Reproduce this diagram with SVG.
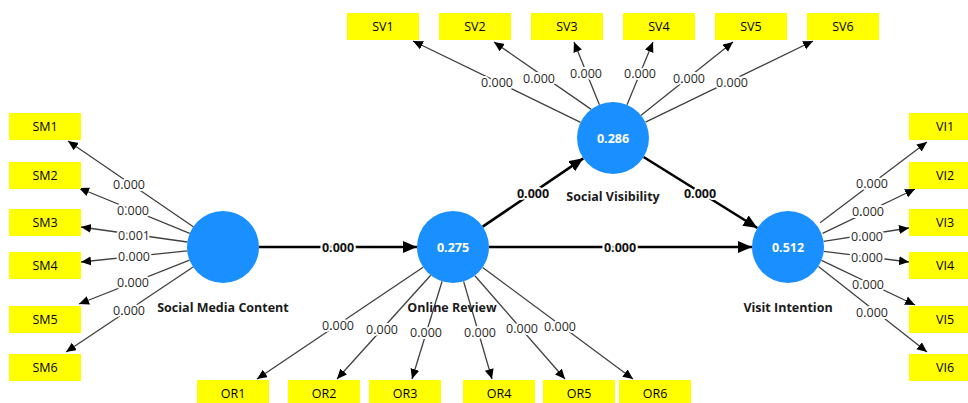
<svg xmlns="http://www.w3.org/2000/svg" width="968" height="403" viewBox="0 0 968 403">
<style>
.box{fill:#ffff00}
.bt{font-family:"Open Sans","Noto Sans",sans-serif;font-size:12.5px;fill:#000;text-anchor:middle;dominant-baseline:central}
.lv{fill:#1a8fff}
.lvt{font-family:"Open Sans","Noto Sans",sans-serif;font-size:12.5px;font-weight:bold;fill:#fff;text-anchor:middle;dominant-baseline:central}
.nm{font-family:"Open Sans","Noto Sans",sans-serif;font-size:12.5px;font-weight:bold;fill:#1a1a1a;text-anchor:middle;dominant-baseline:central}
.m{stroke:#404040;stroke-width:1.3;fill:none;marker-end:url(#am)}
.s{stroke:#000;stroke-width:2.6;fill:none;marker-end:url(#as)}
.ml{font-family:"Open Sans","Noto Sans",sans-serif;font-size:12.5px;fill:#2a2a2a;text-anchor:middle;dominant-baseline:central;stroke:#fff;stroke-width:4;paint-order:stroke;stroke-linejoin:round}
.sl{font-family:"Open Sans","Noto Sans",sans-serif;font-size:12.5px;font-weight:bold;fill:#111;text-anchor:middle;dominant-baseline:central;stroke:#fff;stroke-width:4;paint-order:stroke;stroke-linejoin:round}
</style>
<defs>
<marker id="am" markerUnits="userSpaceOnUse" markerWidth="11" markerHeight="10" refX="10" refY="4.5" orient="auto"><path d="M0,0 L10,4.5 L0,9 z" fill="#000"/></marker>
<marker id="as" markerUnits="userSpaceOnUse" markerWidth="15" markerHeight="13" refX="14" refY="6" orient="auto"><path d="M0,0 L14,6 L0,12 z" fill="#000"/></marker>
</defs>
<rect width="968" height="403" fill="#fff"/>
<g id="connectors">
<line class="m" x1="193.3" y1="226.7" x2="68" y2="141"/>
<line class="m" x1="189.7" y1="233.4" x2="79" y2="188"/>
<line class="m" x1="187.4" y1="242" x2="81" y2="227"/>
<line class="m" x1="187.2" y1="250.8" x2="81" y2="262"/>
<line class="m" x1="189.5" y1="260.2" x2="79" y2="304"/>
<line class="m" x1="193.1" y1="267" x2="66" y2="352"/>
<line class="m" x1="820.1" y1="222.7" x2="927" y2="142"/>
<line class="m" x1="822.6" y1="233.4" x2="915" y2="189"/>
<line class="m" x1="823.6" y1="241.3" x2="909" y2="228"/>
<line class="m" x1="823.8" y1="251.3" x2="909" y2="262"/>
<line class="m" x1="821.5" y1="260.3" x2="915" y2="305"/>
<line class="m" x1="818.5" y1="266.6" x2="927" y2="352"/>
<line class="m" x1="423.1" y1="267.2" x2="257" y2="379"/>
<line class="m" x1="430.7" y1="275.3" x2="337" y2="379"/>
<line class="m" x1="442.1" y1="281.3" x2="412" y2="379"/>
<line class="m" x1="463.6" y1="281.4" x2="492" y2="379"/>
<line class="m" x1="474.9" y1="275.7" x2="565" y2="379"/>
<line class="m" x1="482.7" y1="267.5" x2="633" y2="379"/>
<line class="m" x1="580.6" y1="122.3" x2="413" y2="41"/>
<line class="m" x1="591.2" y1="109.4" x2="494" y2="42"/>
<line class="m" x1="599.4" y1="104.7" x2="574" y2="42"/>
<line class="m" x1="627" y1="104.8" x2="653" y2="42"/>
<line class="m" x1="640.8" y1="115.4" x2="733" y2="42"/>
<line class="m" x1="645.5" y1="122.2" x2="813" y2="41"/>
<line class="s" x1="259" y1="247" x2="417" y2="247"/>
<line class="s" x1="489" y1="247" x2="752" y2="247"/>
<line class="s" x1="482.7" y1="226.7" x2="583.3" y2="158.3"/>
<line class="s" x1="643.6" y1="157" x2="757.4" y2="228"/>
<text class="ml" x="129" y="184">0.000</text>
<text class="ml" x="133" y="210">0.000</text>
<text class="ml" x="134" y="235">0.001</text>
<text class="ml" x="134" y="256.5">0.000</text>
<text class="ml" x="133" y="282.5">0.000</text>
<text class="ml" x="129" y="310">0.000</text>
<text class="ml" x="872" y="183">0.000</text>
<text class="ml" x="868" y="211">0.000</text>
<text class="ml" x="867" y="236">0.000</text>
<text class="ml" x="867" y="257">0.000</text>
<text class="ml" x="868" y="284">0.000</text>
<text class="ml" x="872" y="312">0.000</text>
<text class="ml" x="338" y="325">0.000</text>
<text class="ml" x="382" y="329">0.000</text>
<text class="ml" x="426" y="332">0.000</text>
<text class="ml" x="480" y="332">0.000</text>
<text class="ml" x="522" y="328">0.000</text>
<text class="ml" x="560" y="326">0.000</text>
<text class="ml" x="497" y="82">0.000</text>
<text class="ml" x="539" y="78">0.000</text>
<text class="ml" x="586" y="73">0.000</text>
<text class="ml" x="640" y="73">0.000</text>
<text class="ml" x="689" y="78">0.000</text>
<text class="ml" x="732" y="82">0.000</text>
<text class="sl" x="338" y="247">0.000</text>
<text class="sl" x="620" y="247">0.000</text>
<text class="sl" x="533" y="193">0.000</text>
<text class="sl" x="700" y="193">0.000</text>
</g>
<g id="SM1"><rect class="box" x="9" y="113" width="72" height="27"/><text class="bt" x="45" y="126.5">SM1</text></g>
<g id="SM2"><rect class="box" x="9" y="162" width="72" height="27"/><text class="bt" x="45" y="175.5">SM2</text></g>
<g id="SM3"><rect class="box" x="9" y="209" width="72" height="27"/><text class="bt" x="45" y="222.5">SM3</text></g>
<g id="SM4"><rect class="box" x="9" y="252" width="72" height="27"/><text class="bt" x="45" y="265.5">SM4</text></g>
<g id="SM5"><rect class="box" x="9" y="306" width="72" height="27"/><text class="bt" x="45" y="319.5">SM5</text></g>
<g id="SM6"><rect class="box" x="9" y="354" width="72" height="27"/><text class="bt" x="45" y="367.5">SM6</text></g>
<g id="VI1"><rect class="box" x="909" y="113" width="72" height="27"/><text class="bt" x="945" y="126.5">VI1</text></g>
<g id="VI2"><rect class="box" x="909" y="162" width="72" height="27"/><text class="bt" x="945" y="175.5">VI2</text></g>
<g id="VI3"><rect class="box" x="909" y="209" width="72" height="27"/><text class="bt" x="945" y="222.5">VI3</text></g>
<g id="VI4"><rect class="box" x="909" y="252" width="72" height="27"/><text class="bt" x="945" y="265.5">VI4</text></g>
<g id="VI5"><rect class="box" x="909" y="306" width="72" height="27"/><text class="bt" x="945" y="319.5">VI5</text></g>
<g id="VI6"><rect class="box" x="909" y="354" width="72" height="27"/><text class="bt" x="945" y="367.5">VI6</text></g>
<g id="SV1"><rect class="box" x="347" y="13" width="72" height="27"/><text class="bt" x="383" y="26.5">SV1</text></g>
<g id="SV2"><rect class="box" x="439" y="13" width="72" height="27"/><text class="bt" x="475" y="26.5">SV2</text></g>
<g id="SV3"><rect class="box" x="531" y="13" width="72" height="27"/><text class="bt" x="567" y="26.5">SV3</text></g>
<g id="SV4"><rect class="box" x="623" y="13" width="72" height="27"/><text class="bt" x="659" y="26.5">SV4</text></g>
<g id="SV5"><rect class="box" x="715" y="13" width="72" height="27"/><text class="bt" x="751" y="26.5">SV5</text></g>
<g id="SV6"><rect class="box" x="807" y="13" width="72" height="27"/><text class="bt" x="843" y="26.5">SV6</text></g>
<g id="OR1"><rect class="box" x="197" y="380" width="72" height="27"/><text class="bt" x="233" y="393.5">OR1</text></g>
<g id="OR2"><rect class="box" x="288" y="380" width="72" height="27"/><text class="bt" x="324" y="393.5">OR2</text></g>
<g id="OR3"><rect class="box" x="369" y="380" width="72" height="27"/><text class="bt" x="405" y="393.5">OR3</text></g>
<g id="OR4"><rect class="box" x="463" y="380" width="72" height="27"/><text class="bt" x="499" y="393.5">OR4</text></g>
<g id="OR5"><rect class="box" x="543" y="380" width="72" height="27"/><text class="bt" x="579" y="393.5">OR5</text></g>
<g id="OR6"><rect class="box" x="619" y="380" width="72" height="27"/><text class="bt" x="655" y="393.5">OR6</text></g>
<g id="SocialMediaContent"><circle class="lv" cx="223" cy="247" r="36"/><text class="nm" x="223" y="307">Social Media Content</text></g>
<g id="OnlineReview"><circle class="lv" cx="453" cy="247" r="36"/><text class="lvt" x="453" y="247">0.275</text><text class="nm" x="452" y="307">Online Review</text></g>
<g id="SocialVisibility"><circle class="lv" cx="613" cy="138" r="36"/><text class="lvt" x="613" y="138">0.286</text><text class="nm" x="613" y="196">Social Visibility</text></g>
<g id="VisitIntention"><circle class="lv" cx="788" cy="247" r="36"/><text class="lvt" x="788" y="247">0.512</text><text class="nm" x="788" y="307">Visit Intention</text></g>
</svg>
